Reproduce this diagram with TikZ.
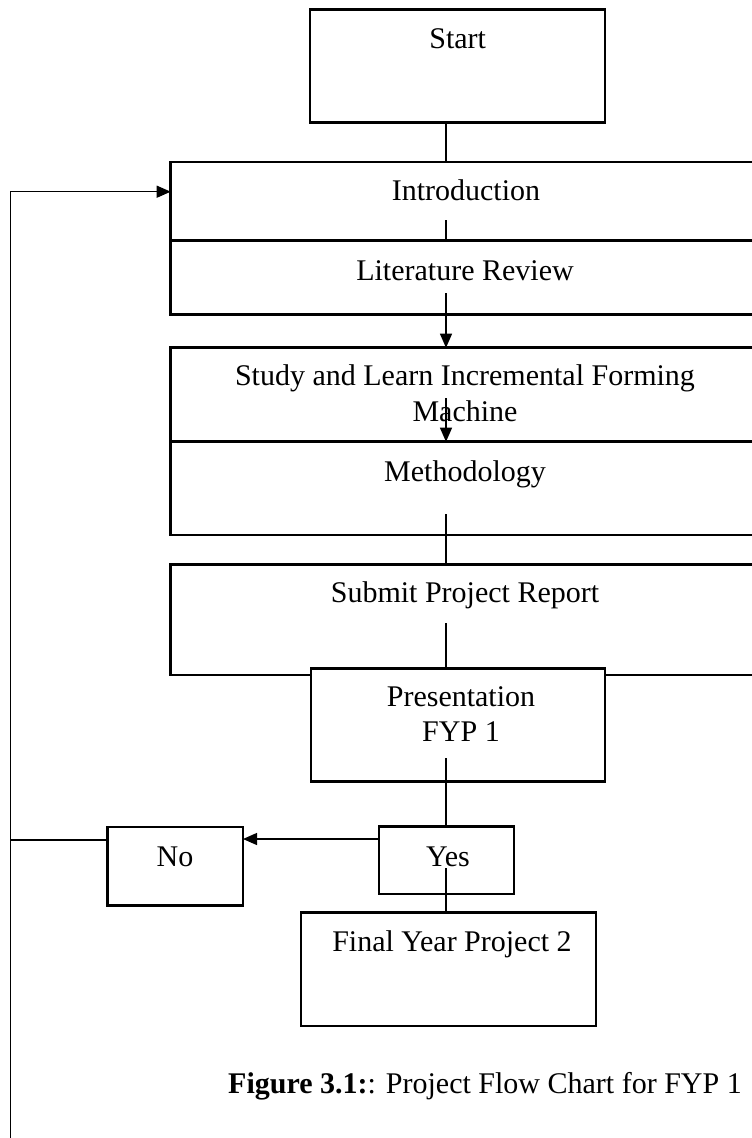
\documentclass[tikz,border=0pt]{standalone}
\usepackage{fontspec}
\setmainfont{Liberation Serif}
\usetikzlibrary{arrows.meta}
\tikzset{
  box/.style={draw=black, line width=2.8pt, fill=white, inner sep=0pt, outer sep=0pt, anchor=north west},
  conn/.style={draw=black, line width=1.3pt},
  arr/.style={conn, -{Triangle[length=14pt,width=12pt]}},
  txt/.style={font=\fontsize{30}{36}\selectfont, inner sep=0pt, anchor=base},
}
\begin{document}
\begin{tikzpicture}[x=1pt,y=-1pt]
\useasboundingbox (0,0) rectangle (752,1138);
\clip (0,0) rectangle (752,1138);
% boxes
\node[box, minimum width=295pt, minimum height=113pt] (start) at (310,9.3) {};
\node[box, minimum width=600pt, minimum height=78.7pt] (intro) at (170.7,162) {};
\node[box, minimum width=600pt, minimum height=73.6pt] (lit) at (170.7,240.7) {};
\node[box, minimum width=600pt, minimum height=94pt] (study) at (170.7,347.7) {};
\node[box, minimum width=600pt, minimum height=93.3pt] (meth) at (170.7,441.7) {};
\node[box, minimum width=600pt, minimum height=110.7pt] (submit) at (170.7,564.3) {};
\node[box, minimum width=294pt, minimum height=113.4pt] (pres) at (311,668.3) {};
\node[box, minimum width=135pt, minimum height=67.3pt] (yes) at (379,826.7) {};
\node[box, minimum width=135.6pt, minimum height=78.7pt] (no) at (107.4,827) {};
\node[box, minimum width=295pt, minimum height=113.3pt] (final) at (301,912.7) {};
% texts
\node[txt] (tstart) at (457.7,48.5) {Start};
\node[txt] (tintro) at (466,200.5) {Introduction};
\node[txt] (tlit) at (465,280) {Literature Review};
\node[txt] (tstudy) at (465,385) {Study and Learn Incremental Forming};
\node[txt] (tmach) at (465,421.7) {Machine};
\node[txt] (tmeth) at (465,481) {Methodology};
\node[txt] (tsub) at (465,602.5) {Submit Project Report};
\node[txt] (tpres) at (461,706.5) {Presentation};
\node[txt] (tfyp) at (461,741.5) {FYP 1};
\node[txt] (tyes) at (448,866.5) {Yes};
\node[txt] (tno) at (175,866.5) {No};
\node[txt] (tfinal) at (452,951.5) {Final Year Project 2};
\node[txt, anchor=base west] (cap) at (228,1093) {\textbf{Figure 3.1:}: Project Flow Chart for FYP 1};
% connector coordinates
\coordinate (sp) at (446,0);
\coordinate (il) at (446,220);
\coordinate (ls) at (446,293);
\coordinate (sm) at (446,398);
\coordinate (ms) at (446,514);
\coordinate (sr) at (446,623.3);
\coordinate (py) at (446,758);
\coordinate (yf) at (446,868);
\coordinate (ya) at (379,839);
\coordinate (nl) at (10.5,840);
\coordinate (la) at (10.5,191.7);
\coordinate (lb) at (10.5,1138);
% connectors
\draw[conn] (start.south -| sp) -- (intro.north -| sp);
\draw[conn] (il) -- (lit.north -| il);
\draw[arr] (ls) -- (study.north -| ls);
\draw[arr] (sm) -- (meth.north -| sm);
\draw[conn] (ms) -- (submit.north -| ms);
\draw[conn] (sr) -- (pres.north -| sr);
\draw[conn] (py) -- (yes.north -| py);
\draw[conn] (yf) -- (final.north -| yf);
\draw[arr] (yes.west |- ya) -- (no.east |- ya);
\draw[conn] (no.west |- nl) -- (nl);
\draw[arr] (lb) -- (la) -- (intro.west |- la);
\end{tikzpicture}
\end{document}
